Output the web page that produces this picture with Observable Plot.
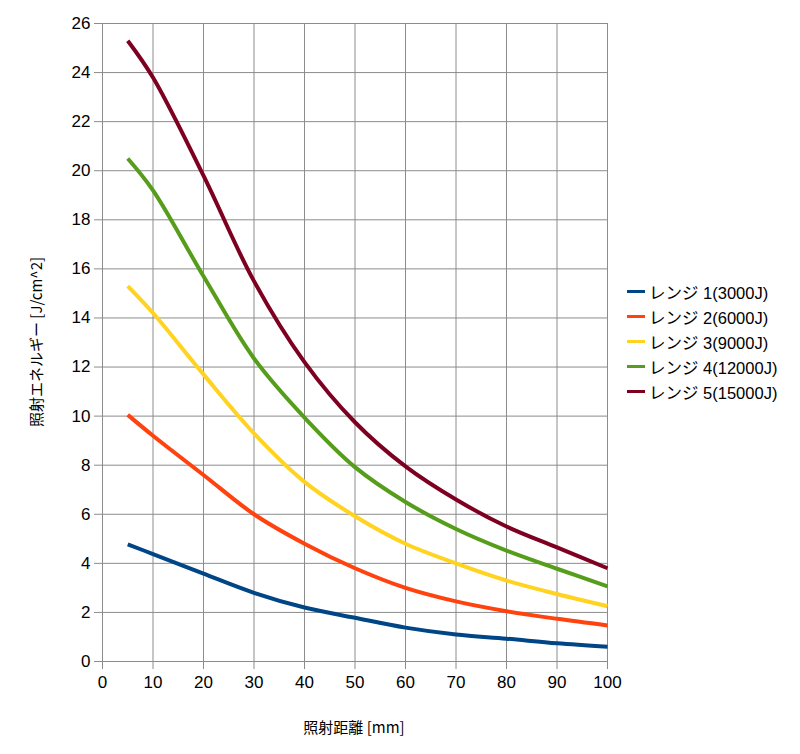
<!DOCTYPE html>
<html><head><meta charset="utf-8">
<script src="https://cdn.jsdelivr.net/npm/d3@7"></script>
<script src="https://cdn.jsdelivr.net/npm/@observablehq/plot@0.6"></script>
<style>
body{margin:0;background:#fff;}
#wrap{position:relative;width:800px;height:754px;font-family:"Liberation Sans","Noto Sans CJK JP",sans-serif;}
#legend{position:absolute;left:627px;top:279px;font-size:16.5px;color:#000;}
.li{display:flex;align-items:center;height:25px;white-space:nowrap;}
.sw{width:18px;height:3px;margin-right:4px;}
</style></head>
<body><div id="wrap"><div id="legend"></div></div>
<script>
const distances = [5, 10, 20, 30, 40, 50, 60, 70, 80, 90, 100];
const seriesNames = ["レンジ 1(3000J)", "レンジ 2(6000J)", "レンジ 3(9000J)", "レンジ 4(12000J)", "レンジ 5(15000J)"];
const seriesColors = ["#004586", "#ff420e", "#ffd320", "#579d1c", "#7e0021"];
const range1 = [4.77, 4.38, 3.58, 2.8, 2.2, 1.78, 1.38, 1.1, 0.93, 0.74, 0.6];
const range2 = [10.05, 9.2, 7.6, 6.0, 4.8, 3.8, 3.0, 2.45, 2.05, 1.74, 1.47];
const range3 = [15.3, 14.2, 11.7, 9.3, 7.32, 5.92, 4.8, 4.0, 3.3, 2.75, 2.25];
const range4 = [20.5, 19.2, 15.7, 12.35, 9.94, 7.92, 6.5, 5.4, 4.52, 3.78, 3.06];
const range5 = [25.3, 23.8, 19.8, 15.5, 12.2, 9.75, 7.95, 6.6, 5.5, 4.65, 3.8];
const xTicks = [0, 10, 20, 30, 40, 50, 60, 70, 80, 90, 100];
const yTicks = [0, 2, 4, 6, 8, 10, 12, 14, 16, 18, 20, 22, 24, 26];
const xLabel = "照射距離 [mm]";
const yLabel = "照射エネルギー [J/cm^2]";

const allSeries = [range1, range2, range3, range4, range5];
const rows = [];
allSeries.forEach((vals, i) => vals.forEach((v, j) => rows.push({x: distances[j], y: v, s: seriesNames[i]})));

const chart = Plot.plot({
  width: 800, height: 754,
  marginLeft: 102, marginRight: 193, marginTop: 23, marginBottom: 93,
  style: {fontFamily: "'Liberation Sans','Noto Sans CJK JP',sans-serif", fontSize: "17px", color: "#000", background: "#fff"},
  x: {domain: [0, 100]},
  y: {domain: [0, 26]},
  color: {domain: seriesNames, range: seriesColors},
  marks: [
    Plot.gridX(xTicks, {stroke: "#8c8c8c", strokeOpacity: 1, strokeWidth: 1}),
    Plot.gridY(yTicks, {stroke: "#8c8c8c", strokeOpacity: 1, strokeWidth: 1}),
    Plot.axisX(xTicks, {tickSize: 8, tickPadding: 6, stroke: "#8c8c8c", label: null, fontSize: 17}),
    Plot.axisY(yTicks, {tickSize: 8, tickPadding: 4, stroke: "#8c8c8c", label: null, fontSize: 17}),
    Plot.line(rows, {x: "x", y: "y", z: "s", stroke: "s", strokeWidth: 4, curve: "catmull-rom", strokeLinecap: "butt"})
  ]
});
chart.querySelectorAll("g[aria-label='x-axis tick label'] text, g[aria-label='y-axis tick label'] text").forEach(t => t.setAttribute("fill", "#000"));
const wrap = document.getElementById("wrap");
wrap.insertBefore(chart, wrap.firstChild);

const svg = d3.select(chart);
svg.append("text").attr("x", 354).attr("y", 733).attr("text-anchor", "middle")
  .attr("font-size", 15).attr("font-family", "'Noto Sans CJK JP','Liberation Sans',sans-serif").text(xLabel);
svg.append("text").attr("transform", "translate(42,342) rotate(-90)").attr("text-anchor", "middle")
  .attr("font-size", 15).attr("font-family", "'Noto Sans CJK JP','Liberation Sans',sans-serif").text(yLabel);

const legend = document.getElementById("legend");
seriesNames.forEach((n, i) => {
  const d = document.createElement("div"); d.className = "li";
  const sw = document.createElement("span"); sw.className = "sw"; sw.style.background = seriesColors[i];
  const t = document.createElement("span"); t.textContent = n;
  d.appendChild(sw); d.appendChild(t); legend.appendChild(d);
});
</script></body></html>
